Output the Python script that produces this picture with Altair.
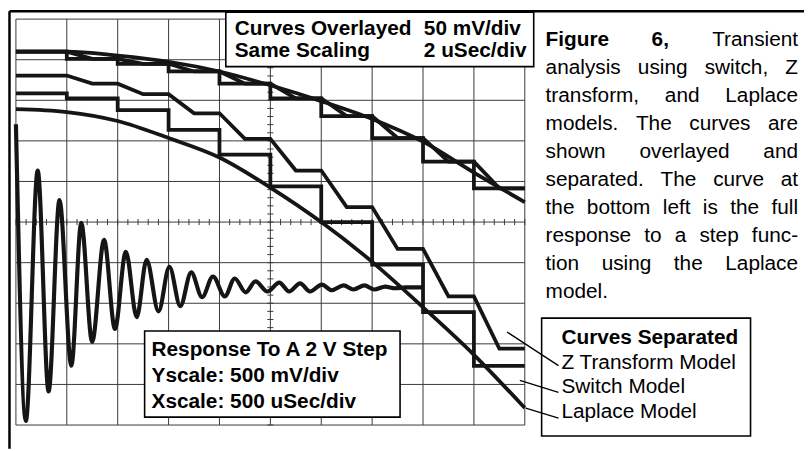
import altair as alt
import pandas as pd

# ---------------- data (scope graticule divisions: x 0..10, y 0..10) ----------------
GRID = list(range(11))

# "Curves Overlayed" (50 mV/div, 2 uSec/div): held value after each sample
OVL_HOLD = [9.20, 9.02, 8.90, 8.71, 8.41, 8.05, 7.61, 7.07, 6.49, 5.83]
OVL_LAPLACE = [9.20, 9.20, 9.10, 8.95, 8.71, 8.37, 7.98, 7.54, 6.98, 6.22, 5.49]

# "Curves Separated"
SEP_Z_HOLD = [8.61, 8.41, 8.15, 7.68, 7.05, 6.27, 5.37, 4.34, 3.17, 1.88]
SEP_SW_HOLD = [8.17, 8.05, 7.76, 7.27, 6.66, 5.88, 5.00, 3.95, 2.78, 1.46]
SEP_LAPLACE = [7.78, 7.71, 7.49, 7.07, 6.59, 5.85, 5.00, 4.02, 2.90, 1.73, 0.42]

# Full response to a 2 V step (500 mV/div, 500 uSec/div): read extrema
STEP_T = [0.00, 0.195, 0.428, 0.642, 0.856, 1.089, 1.284, 1.498, 1.732, 1.946,
          2.160, 2.374, 2.568, 2.802, 3.016, 3.230, 3.444, 3.658, 3.872, 4.105,
          4.300, 4.514, 4.708, 4.942, 5.175, 5.370, 5.584, 5.778, 6.012, 6.206,
          6.440, 6.634, 6.848, 7.043, 7.257, 7.451, 7.665, 8.016]
STEP_V = [7.41, 0.10, 6.27, 0.83, 5.54, 1.46, 4.98, 2.05, 4.56, 2.37,
          4.27, 2.66, 4.07, 2.80, 3.90, 2.93, 3.76, 3.15, 3.66, 3.17,
          3.61, 3.27, 3.54, 3.29, 3.51, 3.29, 3.49, 3.29, 3.46, 3.32,
          3.44, 3.34, 3.44, 3.34, 3.41, 3.37, 3.39, 3.39]

BOX_OVERLAY = [["Curves Overlayed", "50 mV/div"], ["Same Scaling", "2 uSec/div"]]
BOX_STEP = ["Response To A 2 V Step", "Yscale: 500 mV/div", "Xscale: 500 uSec/div"]
LEGEND_TITLE = "Curves Separated"
LEGEND_ITEMS = ["Z Transform Model", "Switch Model", "Laplace Model"]
CAPTION = ["Figure 6, Transient", "analysis using switch, Z", "transform, and Laplace",
           "models. The curves are", "shown overlayed and", "separated. The curve at",
           "the bottom left is the full", "response to a step func-",
           "tion using the Laplace", "model."]
CAPTION_BOLD = ["Figure", "6,"]

# ---------------- layout helpers (page pixel -> graticule units) ----------------
X0, DIVX, Y0, DIVY = 16.0, 51.4, 427.0, 41.0
W, H = 804, 443


def dx(px):
    return (px - X0) / DIVX


def dy(py):
    return (Y0 - py) / DIVY


XS = alt.Scale(domain=[dx(8), dx(8 + W)], nice=False, zero=False)
YS = alt.Scale(domain=[dy(8 + H), dy(8)], nice=False, zero=False)
FONT = "Liberation Sans"
INK = "#151515"

W_REG = dict(a=556, b=556, c=500, d=556, e=556, f=278, g=556, h=556, i=222, j=222, k=500,
             l=222, m=833, n=556, o=556, p=556, q=556, r=333, s=500, t=278, u=556, v=500,
             w=722, x=500, y=500, z=500, T=611, Z=611, L=556, F=611)
W_REG.update({",": 278, ".": 278, "-": 333, " ": 278, "6": 556})
W_BOLD = dict(F=611, i=278, g=611, u=611, r=389, e=556)
W_BOLD.update({"6": 556, ",": 278})


def text_w(s, size, bold=False):
    tbl = W_BOLD if bold else W_REG
    return sum(tbl.get(c, 556) for c in s) * size / 1000.0


def X(f):
    return alt.X(f, type="quantitative", scale=XS, axis=None)


def Y(f):
    return alt.Y(f, type="quantitative", scale=YS, axis=None)


def segs(rows):
    return pd.DataFrame(rows, columns=["x", "y", "x2", "y2"])


def rule_layer(df, **kw):
    return alt.Chart(df).mark_rule(**kw).encode(
        x=X("x"), y=Y("y"), x2=alt.X2("x2"), y2=alt.Y2("y2"))


# ---------------- graticule ----------------
grid_rows = [[g, 0, g, 10] for g in GRID] + [[0, g, 10, g] for g in GRID]
grid = rule_layer(segs(grid_rows), color="#3a3a3a", strokeWidth=1)
minor = [round(i * 0.2, 2) for i in range(51)]
tick_rows = [[m, 5 - 0.075, m, 5 + 0.075] for m in minor] + \
            [[5 - 0.06, m, 5 + 0.06, m] for m in minor]
ticks = rule_layer(segs(tick_rows), color="#3a3a3a", strokeWidth=1)

frame = rule_layer(segs([[dx(9.5), dy(9), dx(9.5), dy(451)],
                         [dx(9.5), dy(9), dx(812), dy(9)]]),
                   color="black", strokeWidth=2.5)

# ---------------- boxes ----------------
boxes_df = pd.DataFrame({
    "x": [dx(228), dx(146), dx(547)],
    "x2": [dx(539), dx(404), dx(758)],
    "y": [dy(10), dy(332), dy(319)],
    "y2": [dy(65), dy(419), dy(438)],
})
boxes = alt.Chart(boxes_df).mark_rect(fill="white", stroke="black", strokeWidth=1.6).encode(
    x=X("x"), x2=alt.X2("x2"), y=Y("y"), y2=alt.Y2("y2"))


# ---------------- curves ----------------
def hold_steps(hold):
    xs, ys = [], []
    for k, v in enumerate(hold):
        xs += [GRID[k], GRID[k + 1]]
        ys += [v, v]
    return xs, ys


def ramp_hold(hold):
    xs, ys = [GRID[0]], [hold[0]]
    for k in range(1, len(hold)):
        xs += [GRID[k], GRID[k] + 0.5]
        ys += [hold[k - 1], hold[k]]
    xs.append(GRID[-1])
    ys.append(hold[-1])
    return xs, ys


def curve_df(name, xs, ys):
    return pd.DataFrame({"x": xs, "y": ys, "s": name, "o": range(len(xs))})


step_df = pd.concat([
    curve_df("ovl_switch", *hold_steps(OVL_HOLD)),
    curve_df("ovl_z", *ramp_hold(OVL_HOLD)),
    curve_df("sep_switch", *hold_steps(SEP_SW_HOLD)),
    curve_df("sep_z", *ramp_hold(SEP_Z_HOLD)),
])
smooth_df = pd.concat([
    curve_df("ovl_laplace", GRID, OVL_LAPLACE),
    curve_df("sep_laplace", GRID, SEP_LAPLACE),
])
resp_df = curve_df("response", STEP_T, STEP_V)

steps = alt.Chart(step_df).mark_line(color=INK, strokeWidth=3.8, strokeJoin="miter").encode(
    x=X("x"), y=Y("y"), detail="s:N", order="o:Q")
smooth = alt.Chart(smooth_df).mark_line(color=INK, strokeWidth=3.8, interpolate="monotone").encode(
    x=X("x"), y=Y("y"), detail="s:N", order="o:Q")
resp = alt.Chart(resp_df).mark_line(color=INK, strokeWidth=4.2, interpolate="monotone").encode(
    x=X("x"), y=Y("y"), order="o:Q")

# leader lines from the separated curves to the legend
leaders = rule_layer(segs([[dx(512), dy(333), dx(564), dy(367)],
                           [dx(525), dy(382), dx(564), dy(394)],
                           [dx(531), dy(410), dx(564), dy(420)]]),
                     color="black", strokeWidth=1.3)

# ---------------- texts ----------------
bold_rows, reg_rows, reg_right_rows = [], [], []
for i, (left, right) in enumerate(BOX_OVERLAY):
    bold_rows.append([dx(237), dy(33 + 22 * i), left])
    bold_rows.append([dx(428), dy(33 + 22 * i), right])
for i, t in enumerate(BOX_STEP):
    bold_rows.append([dx(153), dy(357 + 26.5 * i), t])
bold_rows.append([dx(567), dy(345), LEGEND_TITLE])
for i, t in enumerate(LEGEND_ITEMS):
    reg_rows.append([dx(567), dy(370 + 25 * i), t])

CAP_L, CAP_R, CAP_SIZE = 551, 806, 21
for i, line in enumerate(CAPTION):
    base = dy(44 + 28.3 * i)
    words = line.split()
    bold = [(i == 0 and w in CAPTION_BOLD) for w in words]
    widths = [text_w(w, CAP_SIZE, b) for w, b in zip(words, bold)]
    justify = i < len(CAPTION) - 1 and len(words) > 1
    if justify:
        gap = (CAP_R - CAP_L - sum(widths)) / (len(words) - 1)
    else:
        gap = text_w(" ", CAP_SIZE)
    xpos = CAP_L
    for j, (w, b, wd) in enumerate(zip(words, bold, widths)):
        if justify and j == len(words) - 1:
            reg_right_rows.append([dx(CAP_R), base, w])
        else:
            (bold_rows if b else reg_rows).append([dx(xpos), base, w])
        xpos += wd + gap

bold_df = pd.DataFrame(bold_rows, columns=["x", "y", "t"])
reg_df = pd.DataFrame(reg_rows, columns=["x", "y", "t"])
reg_right_df = pd.DataFrame(reg_right_rows, columns=["x", "y", "t"])

txt_bold = alt.Chart(bold_df).mark_text(
    align="left", baseline="alphabetic", font=FONT, fontSize=21, fontWeight="bold",
    color="black").encode(x=X("x"), y=Y("y"), text="t:N")
txt_reg = alt.Chart(reg_df).mark_text(
    align="left", baseline="alphabetic", font=FONT, fontSize=21, color="black").encode(
    x=X("x"), y=Y("y"), text="t:N")
txt_right = alt.Chart(reg_right_df).mark_text(
    align="right", baseline="alphabetic", font=FONT, fontSize=21, color="black").encode(
    x=X("x"), y=Y("y"), text="t:N")

chart = alt.layer(grid, ticks, frame, boxes, smooth, steps, resp, leaders,
                  txt_reg, txt_right, txt_bold).properties(
    width=W, height=H, padding=0, autosize=alt.AutoSizeParams(type="none"),
    background="white"
).configure_view(stroke=None)

chart.save("out.html", embed_options={"renderer": "svg", "actions": False})
